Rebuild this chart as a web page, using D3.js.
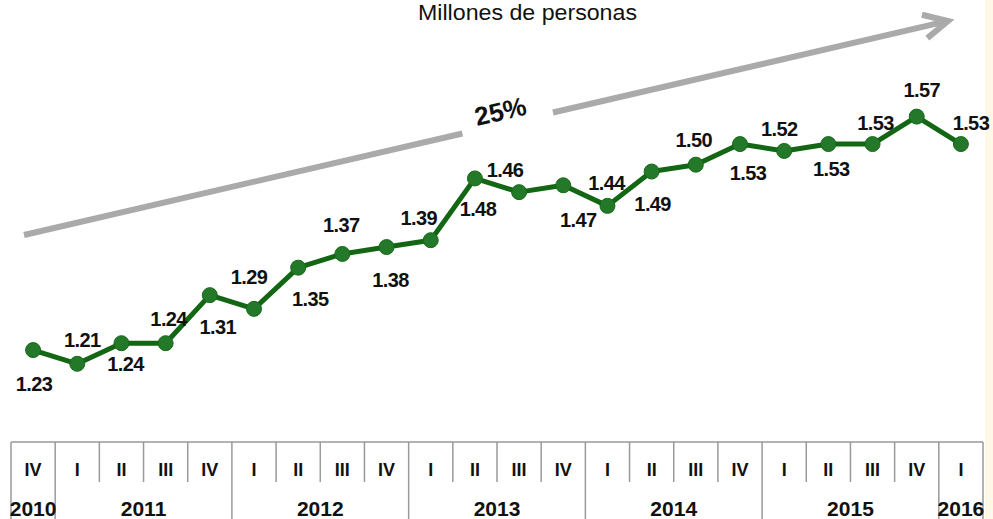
<!DOCTYPE html>
<html>
<head>
<meta charset="utf-8">
<script src="https://cdn.jsdelivr.net/npm/d3@7"></script>
<style>
  body { margin: 0; background: #fff; }
  svg { display: block; }
</style>
</head>
<body>
<svg id="chart"></svg>
<script>
// data
const quarters = ['IV', 'I', 'II', 'III', 'IV', 'I', 'II', 'III', 'IV', 'I', 'II', 'III', 'IV', 'I', 'II', 'III', 'IV', 'I', 'II', 'III', 'IV', 'I']
const years = ['2010', '2011', '2011', '2011', '2011', '2012', '2012', '2012', '2012', '2013', '2013', '2013', '2013', '2014', '2014', '2014', '2014', '2015', '2015', '2015', '2015', '2016']
const values = [1.23, 1.21, 1.24, 1.24, 1.31, 1.29, 1.35, 1.37, 1.38, 1.39, 1.48, 1.46, 1.47, 1.44, 1.49, 1.50, 1.53, 1.52, 1.53, 1.53, 1.57, 1.53]
const title = 'Millones de personas'
const growthLabel = '25%'

// layout only: nudge of each value label from its point, [dx, dy] in px
const labelNudge = [[1, 34], [5, -24], [4, 21], [3, -24], [8, 32], [-5, -32], [12, 31], [-1, -29], [4, 33], [-12, -22], [3, 31],
	[-14, -22], [15, 35], [-1, -23], [1, 32], [-2, -25], [8, 29], [-5, -22], [3, 25], [3, -21], [5, -27], [10, -21]]

const width = 993, height = 519
const font = '"Liberation Sans", Arial, sans-serif'

const svg = d3.select('#chart')
	.attr('width', width)
	.attr('height', height)

// cream strip on the right edge
svg.append('rect')
	.attr('x', 985).attr('y', 0)
	.attr('width', width - 985).attr('height', height)
	.attr('fill', '#fff8e7')

const idx = d3.range(values.length)

const x = d3.scaleBand()
	.domain(idx)
	.range([11, 983])

const y = d3.scaleLinear()
	.domain([1.0, 1.6])
	.range([508, 96])

const cx = i => x(i) + x.bandwidth() / 2

// title (squeezed to look condensed)
svg.append('text')
	.attr('x', 418)
	.attr('y', 20)
	.attr('textLength', 219)
	.attr('lengthAdjust', 'spacingAndGlyphs')
	.style('font-family', font)
	.style('font-size', '22px')
	.attr('fill', '#111')
	.text(title)

// growth arrow
const a0 = [24, 235], a1 = [948, 21]
const ang = Math.atan2(a1[1] - a0[1], a1[0] - a0[0])
const len = Math.hypot(a1[0] - a0[0], a1[1] - a0[1])
const gap0 = 450, gap1 = 543 // gap around the label, along the arrow
const arrow = svg.append('g')
	.attr('transform', `translate(${a0[0]},${a0[1]}) rotate(${ang * 180 / Math.PI})`)
	.attr('stroke', '#aaaaaa')
	.attr('stroke-width', 6)
	.attr('fill', 'none')
arrow.append('line').attr('x1', 0).attr('y1', 0).attr('x2', gap0).attr('y2', 0)
arrow.append('line').attr('x1', gap1).attr('y1', 0).attr('x2', len - 2).attr('y2', 0)
arrow.append('path')
	.attr('d', `M${len - 24},-12 L${len},0 L${len - 24},12`)
	.attr('stroke-linejoin', 'miter')
arrow.append('text')
	.attr('x', 492)
	.attr('y', -13)
	.attr('text-anchor', 'middle')
	.attr('dominant-baseline', 'central')
	.attr('stroke', 'none')
	.attr('fill', '#111')
	.style('font-family', font)
	.style('font-weight', 'bold')
	.style('font-size', '26px')
	.text(growthLabel)

// line
const line = d3.line()
	.x((d, i) => cx(i))
	.y(d => y(d))

svg.append('path')
	.datum(values)
	.attr('d', line)
	.attr('fill', 'none')
	.attr('stroke', '#136613')
	.attr('stroke-width', 5)
	.attr('stroke-linejoin', 'round')

svg.selectAll('circle.pt')
	.data(values)
	.join('circle')
	.attr('class', 'pt')
	.attr('cx', (d, i) => cx(i))
	.attr('cy', d => y(d))
	.attr('r', 7.5)
	.attr('fill', '#24782a')
	.attr('stroke', '#176a17')
	.attr('stroke-width', 1)

// value labels
svg.selectAll('text.val')
	.data(values)
	.join('text')
	.attr('class', 'val')
	.attr('x', (d, i) => cx(i) + labelNudge[i][0])
	.attr('y', (d, i) => y(d) + labelNudge[i][1])
	.attr('text-anchor', 'middle')
	.attr('dominant-baseline', 'central')
	.style('font-family', font)
	.style('font-weight', 'bold')
	.style('font-size', '20px')
	.style('letter-spacing', '-0.6px')
	.attr('fill', '#111')
	.text(d => d.toFixed(2))

// category table at the bottom
const tTop = 442, tMid = 482
const grid = svg.append('g')
	.attr('stroke', '#9a9a9a')
	.attr('stroke-width', 1.5)

grid.append('line')
	.attr('x1', x.range()[0]).attr('x2', x.range()[1])
	.attr('y1', tTop).attr('y2', tTop)

// quarter separators, full height where the year changes
const edges = d3.range(values.length + 1)
grid.selectAll('line.sep')
	.data(edges)
	.join('line')
	.attr('class', 'sep')
	.attr('x1', i => x.range()[0] + i * x.bandwidth())
	.attr('x2', i => x.range()[0] + i * x.bandwidth())
	.attr('y1', tTop)
	.attr('y2', i => (i === 0 || i === values.length || years[i] !== years[i - 1]) ? height : tMid)

svg.selectAll('text.q')
	.data(quarters)
	.join('text')
	.attr('class', 'q')
	.attr('x', (d, i) => cx(i))
	.attr('y', 470)
	.attr('text-anchor', 'middle')
	.attr('dominant-baseline', 'central')
	.style('font-family', font)
	.style('font-weight', 'bold')
	.style('font-size', '18px')
	.attr('fill', '#111')
	.text(d => d)

// year labels centred on their span of quarters
const yearGroups = d3.groups(idx, i => years[i])
svg.selectAll('text.yr')
	.data(yearGroups)
	.join('text')
	.attr('class', 'yr')
	.attr('x', d => (x(d[1][0]) + x(d[1][d[1].length - 1]) + x.bandwidth()) / 2)
	.attr('y', 508)
	.attr('text-anchor', 'middle')
	.attr('dominant-baseline', 'central')
	.style('font-family', font)
	.style('font-weight', 'bold')
	.style('font-size', '21px')
	.attr('fill', '#111')
	.text(d => d[0])
</script>
</body>
</html>
